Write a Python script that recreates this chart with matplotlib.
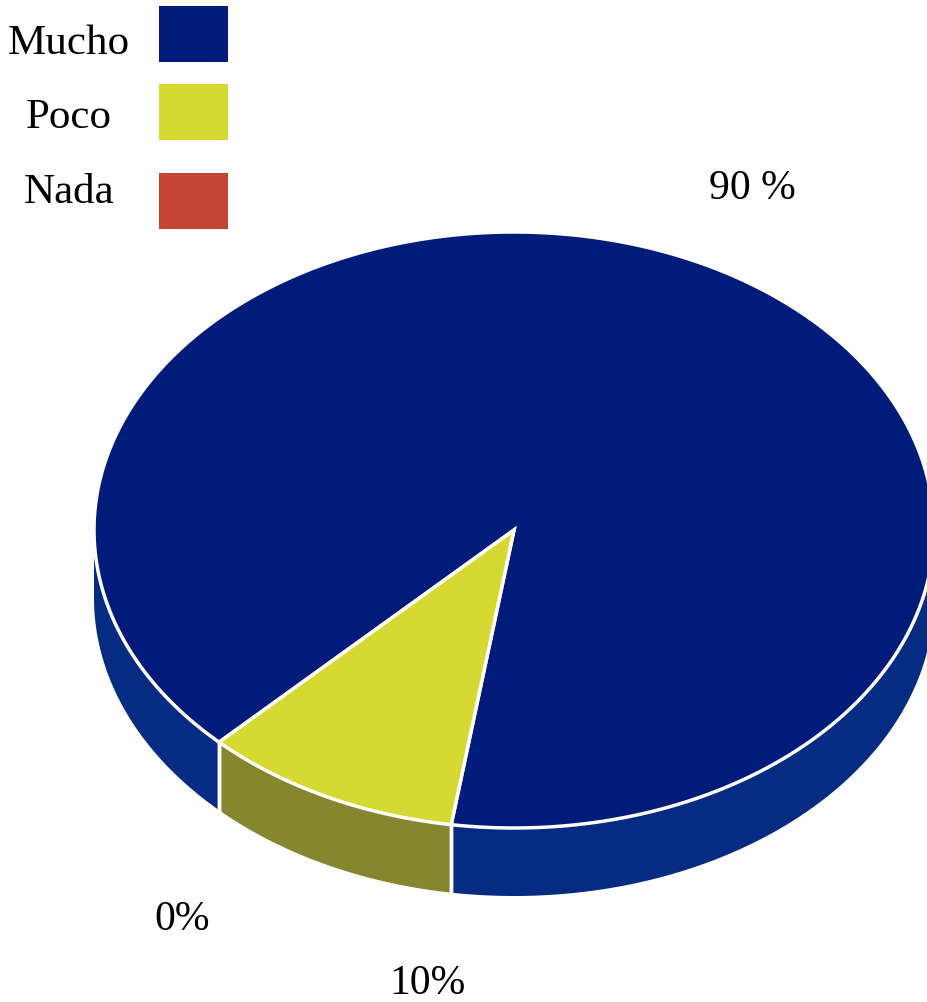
import numpy as np
import matplotlib
matplotlib.use("Agg")
import matplotlib.pyplot as plt
from matplotlib.patches import Polygon, Rectangle

# Survey answers
categories = ["Mucho", "Poco", "Nada"]
shares = [90, 10, 0]
value_labels = ["90 %", "10%", "0%"]
top_colors = ["#011b7b", "#d6d932", "#c44434"]
side_colors = ["#052c82", "#86862f", "#8a2e22"]

W, H = 927, 1003
fig = plt.figure(figsize=(W / 100, H / 100), dpi=100)
ax = fig.add_axes([0, 0, 1, 1])
ax.set_xlim(0, W)
ax.set_ylim(H, 0)
ax.axis("off")

# Pie geometry (pixel space): elliptical top face with an extruded rim
cx, cy = 514, 531
rx, ry = 420, 298
depth = 68
start = 261.4  # degrees, counter-clockwise


def rim(t):
    t = np.radians(t)
    return cx + rx * np.cos(t), cy - ry * np.sin(t)


total = float(sum(shares))
bounds = []
a0 = start
for v in shares:
    a1 = a0 + 360.0 * v / total
    bounds.append((a0, a1))
    a0 = a1

# Side walls: only the front half (180..360 degrees) is visible
for (a0, a1), sc in zip(bounds, side_colors):
    if a1 - a0 <= 0:
        continue
    for k in range(-1, 3):
        lo = max(a0, 180 + 360 * k)
        hi = min(a1, 360 + 360 * k)
        if hi <= lo:
            continue
        t = np.linspace(lo, hi, 200)
        xs, ys = rim(t)
        pts = np.column_stack([np.r_[xs, xs[::-1]], np.r_[ys, ys[::-1] + depth]])
        ax.add_patch(Polygon(pts, closed=True, facecolor=sc, edgecolor="none", zorder=1))

# Vertical separators where slice boundaries meet the front rim
for a0, a1 in bounds:
    if a1 - a0 <= 0:
        continue
    for ang in (a0, a1):
        m = ang % 360
        if 180 < m < 360:
            x, y = rim(ang)
            ax.plot([x, x], [y, y + depth], color="white", lw=2.5, zorder=2)

# Top faces
for (a0, a1), tc in zip(bounds, top_colors):
    if a1 - a0 <= 0:
        continue
    t = np.linspace(a0, a1, 400)
    xs, ys = rim(t)
    pts = np.column_stack([np.r_[cx, xs], np.r_[cy, ys]])
    ax.add_patch(Polygon(pts, closed=True, facecolor=tc, edgecolor="white",
                         lw=2.5, joinstyle="miter", zorder=3))

# Value labels
serif = "Liberation Serif"
label_pos = [(752, 189), (428, 984), (182, 920)]
for txt, (x, y) in zip(value_labels, label_pos):
    ax.text(x, y, txt, fontsize=30, family=serif, ha="center", va="center", color="black")

# Legend
text_y = [44, 118, 193]
box_top = [7, 85, 174]
for name, col, ty, by in zip(categories, top_colors, text_y, box_top):
    ax.text(69, ty, name, fontsize=31, family=serif, ha="center", va="center", color="black")
    ax.add_patch(Rectangle((159, by), 69, 56, facecolor=col, edgecolor="none"))

fig.savefig("out.png", dpi=100)
